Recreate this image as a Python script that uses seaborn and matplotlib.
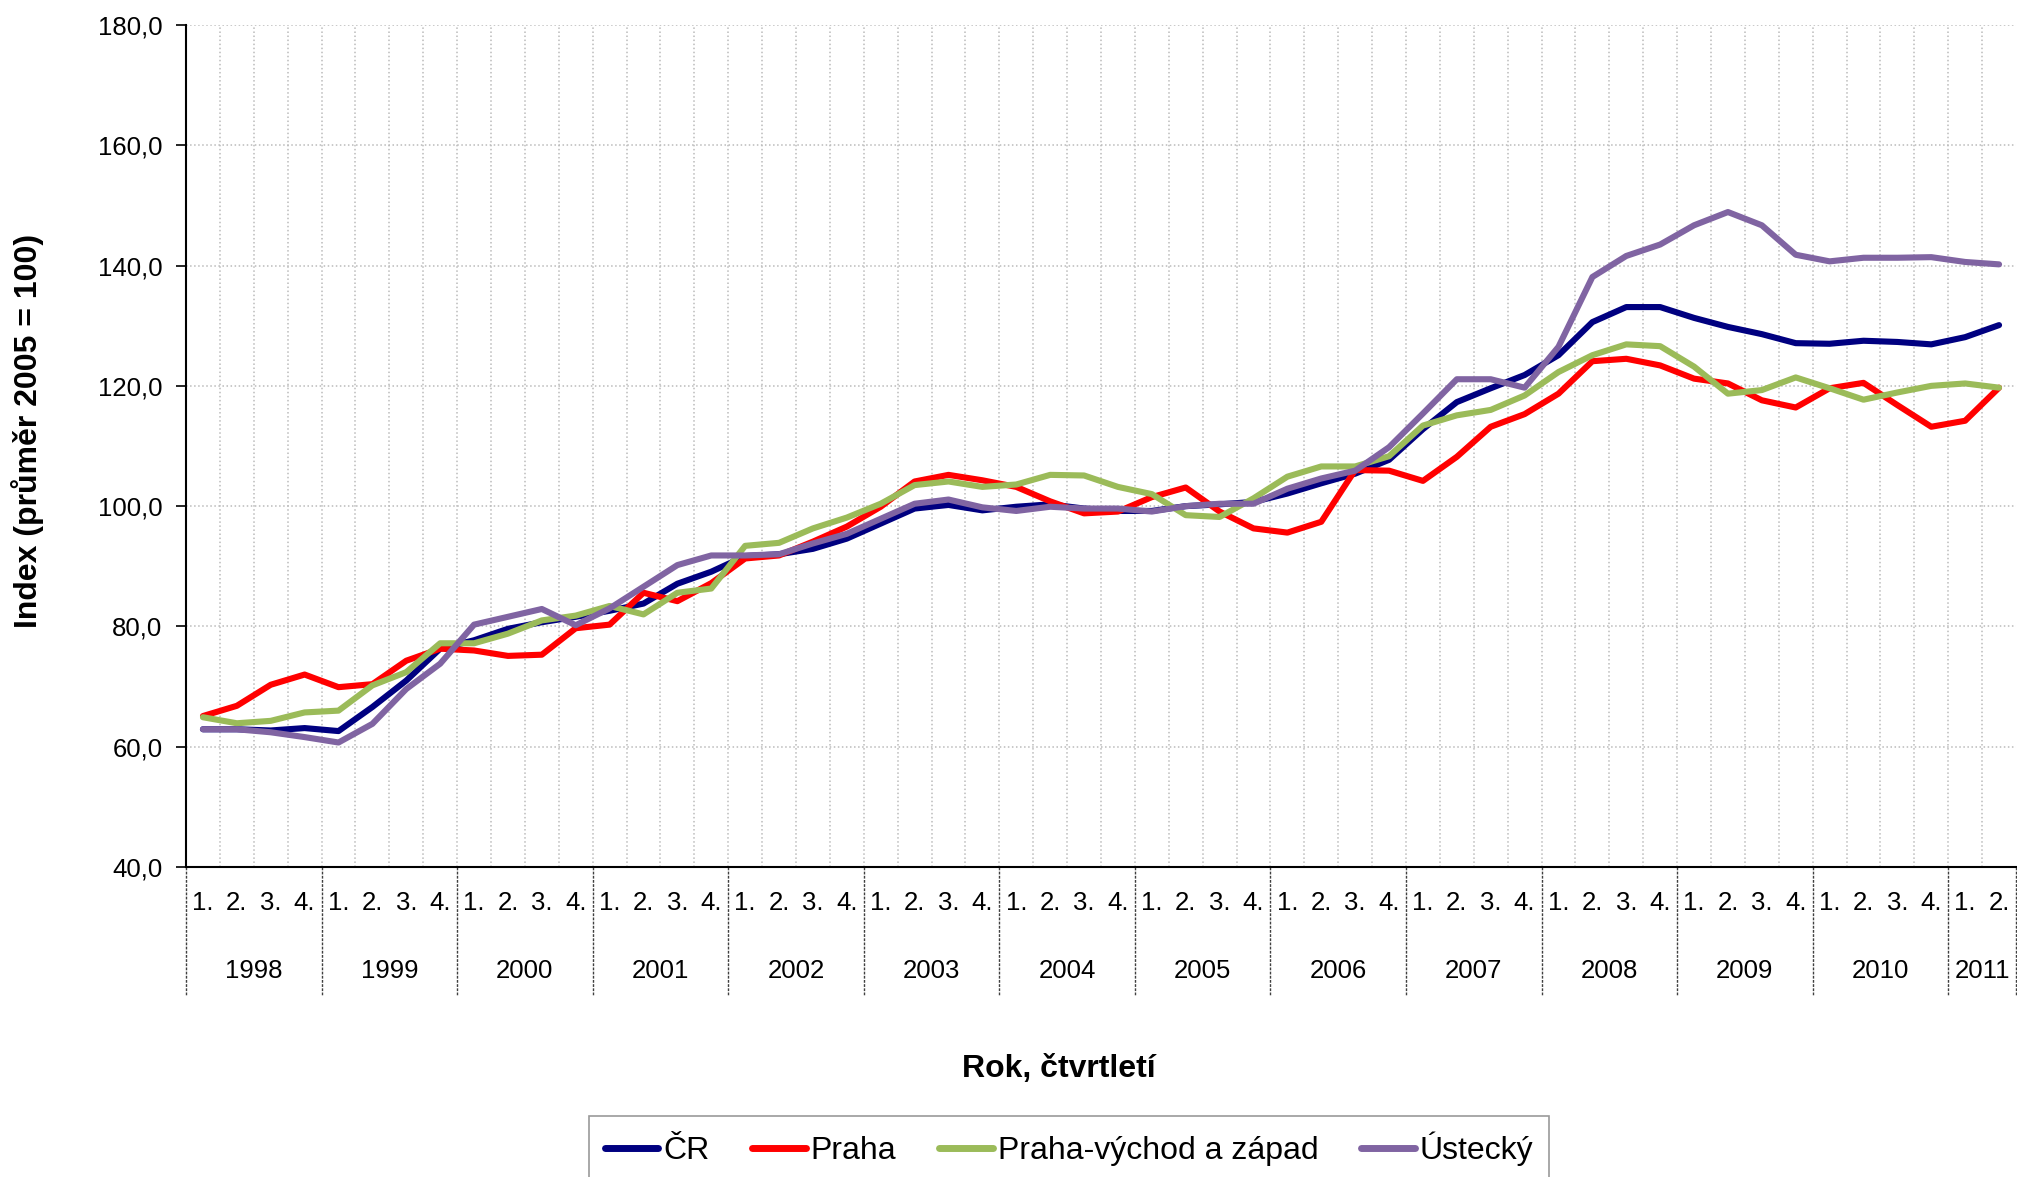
import numpy as np
import pandas as pd
import matplotlib.pyplot as plt
import matplotlib.ticker as mticker
import seaborn as sns

# --- data ---
years = [str(y) for y in range(1998, 2012)]
quarters = ["1.", "2.", "3.", "4."] * 13 + ["1.", "2."]
series_names = ["ČR", "Praha", "Praha-východ a západ", "Ústecký"]
colors = ["#000080", "#FF0000", "#9BBB59", "#8064A2"]

cr = [62.9, 62.9, 62.7, 63.1, 62.6, 66.6, 71.0, 76.3, 77.7, 79.6, 80.7, 81.6,
      82.6, 83.8, 87.1, 89.1, 91.7, 92.0, 92.9, 94.6, 97.1, 99.6, 100.2, 99.3,
      99.9, 100.3, 99.6, 99.2, 99.2, 100.0, 100.3, 100.7, 102.1, 103.8, 105.4, 107.7,
      112.8, 117.3, 119.6, 121.8, 125.1, 130.6, 133.1, 133.1, 131.3, 129.8, 128.6, 127.1,
      127.0, 127.5, 127.3, 126.9, 128.1, 130.1]

praha = [65.1, 66.8, 70.3, 72.0, 69.9, 70.4, 74.3, 76.3, 76.0, 75.1, 75.3, 79.7,
         80.3, 85.6, 84.2, 87.2, 91.3, 91.8, 94.1, 96.6, 99.9, 104.1, 105.2, 104.3,
         103.2, 100.8, 98.8, 99.1, 101.5, 103.1, 99.1, 96.3, 95.6, 97.4, 106.0, 105.9,
         104.2, 108.2, 113.2, 115.3, 118.7, 124.1, 124.5, 123.4, 121.2, 120.4, 117.6, 116.4,
         119.6, 120.5, 116.8, 113.2, 114.2, 119.7]

vychod_zapad = [64.9, 63.9, 64.3, 65.7, 66.0, 70.2, 72.4, 77.2, 77.2, 78.8, 81.0, 81.8,
                83.4, 82.0, 85.6, 86.3, 93.4, 93.9, 96.3, 98.1, 100.4, 103.5, 104.1, 103.2,
                103.6, 105.2, 105.1, 103.2, 102.0, 98.5, 98.2, 101.3, 104.9, 106.6, 106.6, 108.3,
                113.4, 115.1, 116.0, 118.4, 122.3, 125.1, 126.9, 126.6, 123.2, 118.7, 119.3, 121.4,
                119.6, 117.7, 118.9, 120.0, 120.4, 119.7]

ustecky = [62.9, 62.9, 62.4, 61.6, 60.7, 63.8, 69.6, 73.8, 80.3, 81.6, 82.9, 80.2,
           83.0, 86.6, 90.2, 91.8, 91.8, 92.0, 93.8, 95.4, 97.9, 100.4, 101.1, 99.8,
           99.2, 99.9, 99.6, 99.6, 99.1, 100.0, 100.4, 100.4, 102.9, 104.6, 105.9, 109.8,
           115.4, 121.1, 121.1, 119.7, 126.5, 138.1, 141.6, 143.5, 146.7, 148.9, 146.7, 141.8,
           140.7, 141.3, 141.3, 141.4, 140.6, 140.2]

sns.set_theme(style="white")
plt.rcParams["font.family"] = ["Liberation Sans", "DejaVu Sans"]
plt.rcParams.update({"text.color": "black", "xtick.color": "black",
                     "ytick.color": "black", "axes.labelcolor": "black"})

n = len(cr)
df = pd.DataFrame({
    "ctvrtleti": np.tile(np.arange(n), 4),
    "index": cr + praha + vychod_zapad + ustecky,
    "rada": np.repeat(series_names, n),
})

fig = plt.figure(figsize=(20.17, 11.77), dpi=100)
ax = fig.add_axes([186 / 2017, 1 - 867 / 1177, (2016 - 186) / 2017, (867 - 25) / 1177])

sns.lineplot(data=df, x="ctvrtleti", y="index", hue="rada", hue_order=series_names,
             palette=dict(zip(series_names, colors)), linewidth=4.4,
             estimator=None, sort=False, ax=ax)

ax.set_xlim(-0.5, n - 0.5)
ax.set_ylim(40, 180)
ax.set_yticks(range(40, 181, 20))
ax.yaxis.set_major_formatter(mticker.FuncFormatter(lambda v, p: f"{v:.1f}".replace(".", ",")))

# quarter labels at centres, grid at quarter boundaries
ax.set_xticks(np.arange(n), labels=quarters)
ax.set_xticks(np.arange(0.5, n - 0.5), minor=True)
grid_kw = dict(color="#BBBBBB", linestyle=":", linewidth=1.1)
ax.grid(which="minor", axis="x", **grid_kw)
ax.grid(which="major", axis="y", **grid_kw)
ax.grid(which="major", axis="x", visible=False)
ax.set_axisbelow(True)

ax.tick_params(axis="y", left=True, direction="out", length=7, width=1.2,
               color="black", pad=10, labelsize=18.5)
ax.tick_params(axis="x", which="major", length=0, pad=17, labelsize=18.5)
ax.tick_params(axis="x", which="minor", length=0)

for side in ["top", "right"]:
    ax.spines[side].set_visible(False)
for side in ["left", "bottom"]:
    ax.spines[side].set_color("black")
    ax.spines[side].set_linewidth(1.5)

# year separators and year labels below the quarter labels
year_bounds = [k - 0.5 for k in range(0, n + 1, 4)] + [n - 0.5]
ax.vlines(year_bounds, 0, -0.152, transform=ax.get_xaxis_transform(), clip_on=False,
          colors="#404040", linestyles=(0, (2, 1)), linewidth=1)
for i, yr in enumerate(years):
    start, end = 4 * i, min(4 * i + 4, n)
    ax.text((start + end - 1) / 2, -0.1235, yr, transform=ax.get_xaxis_transform(),
            ha="center", va="center", fontsize=18.5)

ax.set_xlabel("")
ax.set_ylabel("")
fig.text(28 / 2017, 0.634, "Index (průměr 2005 = 100)", rotation=90,
         fontsize=23, fontweight="bold", ha="center", va="center")
fig.text(1059 / 2017, 1 - 1069 / 1177, "Rok, čtvrtletí",
         fontsize=23, fontweight="bold", ha="center", va="center")

handles, labels = ax.get_legend_handles_labels()
ax.get_legend().remove()
leg = fig.legend(handles, labels, loc="upper center",
                 bbox_to_anchor=(1069 / 2017, 1 - 1116 / 1177), ncol=4,
                 frameon=True, fancybox=False, edgecolor="#808080", fontsize=23,
                 handlelength=1.67, handletextpad=0.15, columnspacing=1.35,
                 borderpad=0.5, borderaxespad=0)
leg.get_frame().set_linewidth(1.2)
for line in leg.get_lines():
    line.set_linewidth(5)

fig.savefig("out.png", dpi=100)
